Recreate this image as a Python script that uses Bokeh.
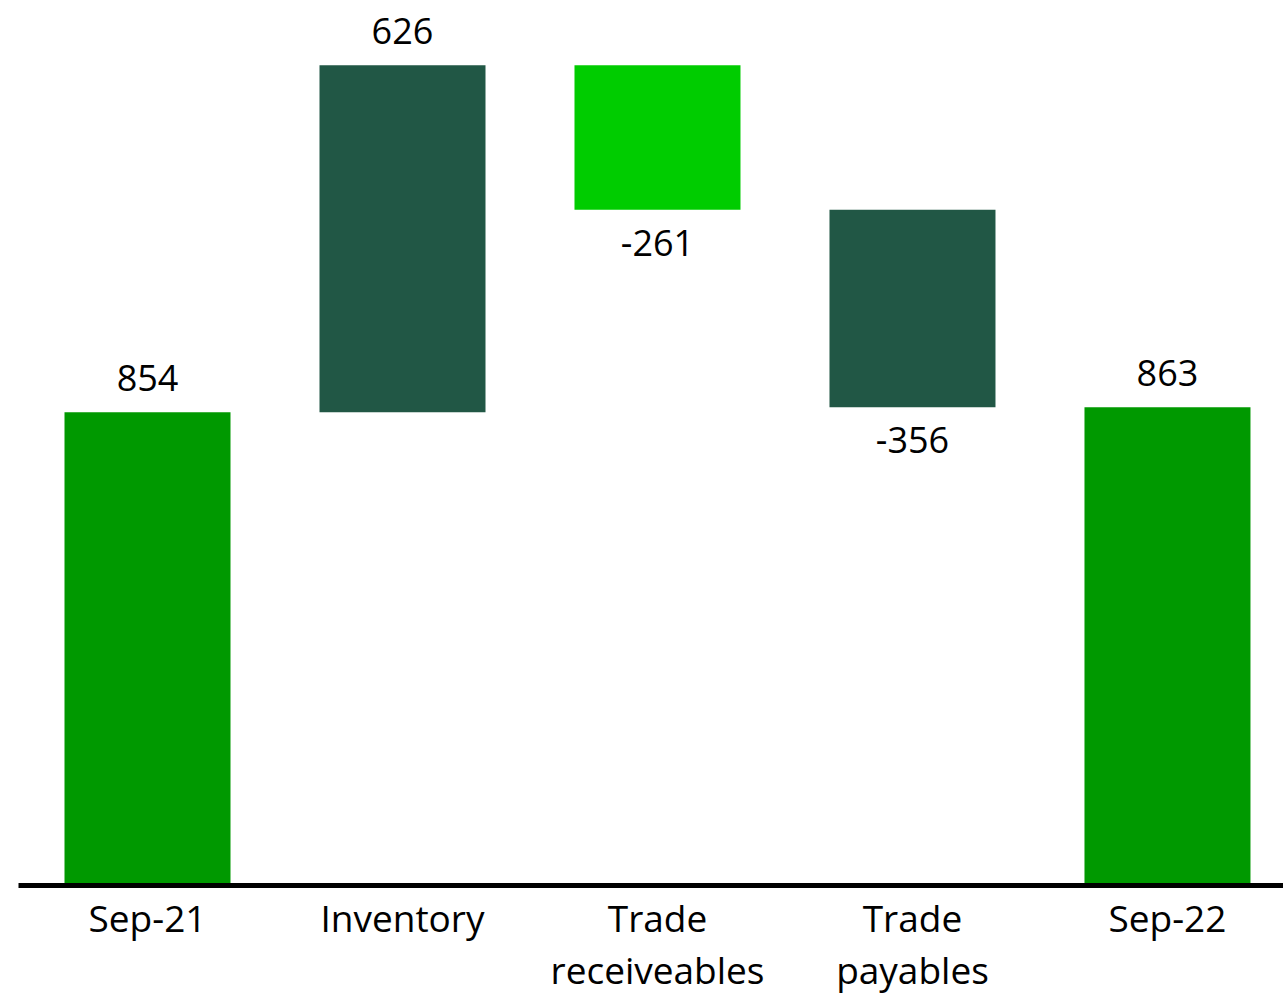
from bokeh.plotting import figure
from bokeh.models import ColumnDataSource, Range1d, FixedTicker
from bokeh.core.properties import value
from bokeh.embed import file_html
from bokeh.resources import INLINE

categories = ["Sep-21", "Inventory", "Trade\nreceiveables", "Trade\npayables", "Sep-22"]
values = [854, 626, -261, -356, 863]
kinds = ["total", "delta", "delta", "delta", "total"]
colors = ["#009900", "#215745", "#00CC00", "#215745", "#009900"]

# waterfall geometry from data
bottoms, tops = [], []
running = 0
for v, k in zip(values, kinds):
    if k == "total":
        b, t = 0, v
        running = v
    else:
        b, t = running, running + v
        running = t
    bottoms.append(min(b, t))
    tops.append(max(b, t))

xs = list(range(len(categories)))
label_y = [t if v >= 0 else b for v, b, t in zip(values, bottoms, tops)]
label_off = [-34 if v >= 0 else 33 for v in values]
labels = [str(v) for v in values]

src = ColumnDataSource(dict(x=xs, bottom=bottoms, top=tops, color=colors,
                            ly=label_y, loff=label_off, label=labels))

p = figure(frame_width=1265, frame_height=878, output_backend="svg", toolbar_location=None,
           x_range=Range1d(-0.5059, 4.455), y_range=Range1d(0, 1584),
           min_border_left=18, min_border_right=0, min_border_top=7, min_border_bottom=0)
p.outline_line_color = None
p.grid.visible = False
p.yaxis.visible = False
p.background_fill_color = "white"
p.border_fill_color = "white"

p.vbar(x="x", bottom="bottom", top="top", width=0.651, fill_color="color",
       line_color=None, source=src)

p.text(x="x", y="ly", text="label", y_offset="loff", source=src,
       text_font=value("Open Sans"), text_font_size="36px", text_color="black",
       text_align="center", text_baseline="alphabetic")

ax = p.xaxis[0]
ax.ticker = FixedTicker(ticks=xs)
ax.major_label_overrides = {i: c for i, c in zip(xs, categories)}
ax.axis_line_color = "black"
ax.axis_line_width = 5
ax.major_tick_line_color = None
ax.minor_tick_line_color = None
ax.major_label_text_font = "Open Sans"
ax.major_label_text_font_size = "37px"
ax.major_label_text_color = "black"
ax.major_label_text_line_height = 1.02
ax.major_label_standoff = 0

open("out.html", "w").write(file_html(p, INLINE))
